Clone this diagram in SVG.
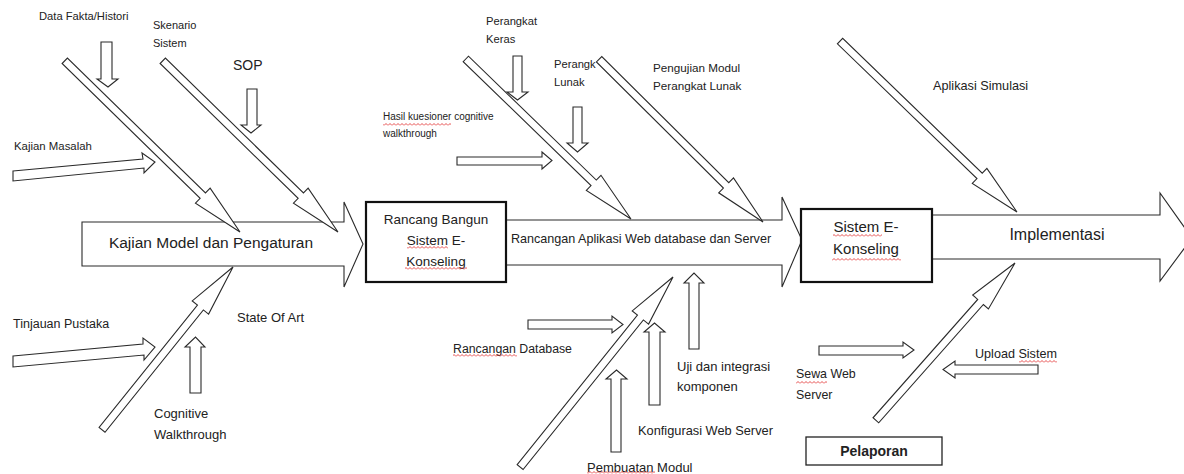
<svg xmlns="http://www.w3.org/2000/svg" width="1184" height="474" viewBox="0 0 1184 474">
<style>
.ar{fill:#fff;stroke:#2a2a2a;stroke-width:1.1;stroke-linejoin:miter}
.box{fill:#fff;stroke:#111;stroke-width:2.2}
.box1{fill:#fff;stroke:#222;stroke-width:1.3}
.t{font-family:"Liberation Sans",Arial,sans-serif;fill:#222}
.m{text-anchor:middle}
.wv{fill:url(#wave)}
</style>
<defs>
<pattern id="wave" width="4" height="3" patternUnits="userSpaceOnUse">
<path d="M0,2.5 L2,0.5 L4,2.5" fill="none" stroke="#e02020" stroke-width="0.8"/>
</pattern>
</defs>
<rect width="1184" height="474" fill="#fff"/>

<g id="kajian-model">
<polygon class="ar" points="82,222 344,222 344,202 363,244 344,287 344,266 82,266"/>
<text class="t m" x="211" y="248" font-size="15.5">Kajian Model dan Pengaturan</text>
</g>
<g id="rancangan-aplikasi">
<polygon class="ar" points="500,220 782,220 782,197 802,240 782,287 782,265 500,265"/>
<text class="t m" x="641" y="243" font-size="12.6">Rancangan Aplikasi Web database dan Server</text>
</g>
<g id="implementasi">
<polygon class="ar" points="925,215 1160,215 1160,193 1192,238 1160,281 1160,259 925,259"/>
<text class="t m" x="1057" y="240" font-size="16">Implementasi</text>
</g>
<g id="rancang-bangun">
<rect class="box" x="366" y="202" width="140" height="80"/>
<text class="t m" x="436" y="224" font-size="13.5">Rancang Bangun</text>
<text class="t m" x="436" y="245" font-size="13.5">Sistem E-</text>
<text class="t m" x="436" y="266" font-size="13.5">Konseling</text>
<rect class="wv" x="407" y="246" width="41" height="3"/>
<rect class="wv" x="405" y="267" width="62" height="3"/>
</g>
<g id="sistem-ekonseling">
<rect class="box" x="801" y="209" width="131" height="73"/>
<text class="t m" x="866" y="232" font-size="15">Sistem E-</text>
<text class="t m" x="866" y="254" font-size="15">Konseling</text>
<rect class="wv" x="833" y="234" width="49" height="3"/>
<rect class="wv" x="832" y="258" width="69" height="3"/>
</g>
<g id="pelaporan">
<rect class="box1" x="806" y="437" width="136" height="28"/>
<text class="t m" x="874" y="456" font-size="14" font-weight="bold">Pelaporan</text>
</g>

<g id="labels">
<text id="lbl-data" class="t" x="39" y="19.5" font-size="11.2">Data Fakta/Histori</text>
<text id="lbl-skenario" class="t" font-size="11"><tspan x="153" y="29">Skenario</tspan><tspan x="153" y="47">Sistem</tspan></text>
<text id="lbl-sop" class="t" x="233" y="70" font-size="14">SOP</text>
<text id="lbl-kajian-masalah" class="t" x="14" y="150" font-size="11.4">Kajian Masalah</text>
<text id="lbl-tinjauan" class="t" x="13" y="328" font-size="12.5">Tinjauan Pustaka</text>
<text id="lbl-soa" class="t" x="237" y="322" font-size="13">State Of Art</text>
<text id="lbl-cognitive" class="t" font-size="13"><tspan x="154" y="418">Cognitive</tspan><tspan x="154" y="439">Walkthrough</tspan></text>
<text id="lbl-keras" class="t" font-size="11.2"><tspan x="486" y="25">Perangkat</tspan><tspan x="486" y="43">Keras</tspan></text>
<text id="lbl-lunak" class="t" font-size="11.2"><tspan x="554" y="68">Perangk</tspan><tspan x="554" y="86">Lunak</tspan></text>
<text id="lbl-pengujian" class="t" font-size="11.7"><tspan x="653" y="72">Pengujian Modul</tspan><tspan x="653" y="90">Perangkat Lunak</tspan></text>
<text id="lbl-hasil" class="t" font-size="10"><tspan x="383" y="120">Hasil kuesioner cognitive</tspan><tspan x="383" y="137">walkthrough</tspan></text>
<rect class="wv" x="383" y="123" width="68" height="3"/>
<text id="lbl-rdb" class="t" x="453" y="353" font-size="12.3">Rancangan Database</text>
<rect class="wv" x="453" y="354" width="64" height="3"/>
<text id="lbl-uji" class="t" font-size="13"><tspan x="677" y="371">Uji dan integrasi</tspan><tspan x="677" y="391">komponen</tspan></text>
<text id="lbl-konfig" class="t" x="638" y="435" font-size="12.8">Konfigurasi Web Server</text>
<text id="lbl-pembuatan" class="t" x="587" y="472" font-size="13">Pembuatan Modul</text>
<rect class="wv" x="587" y="471" width="68" height="3"/>
<text id="lbl-aplikasi" class="t" x="933" y="90" font-size="12.7">Aplikasi Simulasi</text>
<text id="lbl-sewa" class="t" font-size="12.4"><tspan x="796" y="378">Sewa Web</tspan><tspan x="796" y="399">Server</tspan></text>
<rect class="wv" x="796" y="381" width="31" height="3"/>
<text id="lbl-upload" class="t" x="975" y="358" font-size="12.6">Upload Sistem</text>
<rect class="wv" x="1019" y="360" width="38" height="3"/>
</g>

<g id="connectors">
<polygon class="ar" points="101,42 112,42 112,79 118,79 108,87 97,79 101,79"/>
<polygon class="ar" points="247,89 257,89 257,125 261,125 251,133 241,125 247,125"/>
<polygon class="ar" points="13,171 143,159 142,153 155,162 144,173 144,168 13,181"/>
<polygon class="ar" points="13,356 143,344 143,338 155,347 144,360 144,355 13,367"/>
<polygon class="ar" points="190,393 201,393 201,347 205,347 195.5,337 185,347 190,347"/>
<polygon class="ar" points="513,56 522,56 522,92 528,92 517.5,100 507,92 513,92"/>
<polygon class="ar" points="573,107 582,107 582,143 588,143 577.5,152 567,143 573,143"/>
<polygon class="ar" points="457,157 542,157 542,152 552,160.5 542,169 542,165 457,165"/>
<polygon class="ar" points="528,320 612,320 612,316 623,324.5 612,333 612,329 528,329"/>
<polygon class="ar" points="611,452 621,452 621,379 627,379 616.5,370 606,379 611,379"/>
<polygon class="ar" points="649,405 660,405 660,332 665,332 654.5,323 644,332 649,332"/>
<polygon class="ar" points="689,349 699,349 699,283 704,283 694,273 684,283 689,283"/>
<polygon class="ar" points="819,346 903,346 903,342 914,350 903,358 903,355 819,355"/>
<polygon class="ar" points="1038,365 955,365 955,361 943,369.5 955,378 955,374 1038,374"/>

<polygon class="ar" transform="translate(240,232) rotate(44.33)" points="0,0 -52,-10.5 -52,-3.8 -245,-3.8 -245,3.8 -52,3.8 -52,10.5"/>
<polygon class="ar" transform="translate(338,232) rotate(44.33)" points="0,0 -52,-10.5 -52,-3.8 -245,-3.8 -245,3.8 -52,3.8 -52,10.5"/>
<polygon class="ar" transform="translate(233,267) rotate(-51.2)" points="0,0 -52,-10.5 -52,-3.8 -209,-3.8 -209,3.8 -52,3.8 -52,10.5"/>
<polygon class="ar" transform="translate(631,219) rotate(44.1)" points="0,0 -52,-10.5 -52,-3.8 -230,-3.8 -230,3.8 -52,3.8 -52,10.5"/>
<polygon class="ar" transform="translate(763,222) rotate(44.8)" points="0,0 -52,-10.5 -52,-3.8 -231,-3.8 -231,3.8 -52,3.8 -52,10.5"/>
<polygon class="ar" transform="translate(673,277) rotate(-51.2)" points="0,0 -52,-10.5 -52,-3.8 -244,-3.8 -244,3.8 -52,3.8 -52,10.5"/>
<polygon class="ar" transform="translate(1017,212) rotate(44.0)" points="0,0 -52,-10.5 -52,-3.8 -246,-3.8 -246,3.8 -52,3.8 -52,10.5"/>
<polygon class="ar" transform="translate(1015,263) rotate(-48.5)" points="0,0 -52,-10.5 -52,-3.8 -210,-3.8 -210,3.8 -52,3.8 -52,10.5"/>
</g>
</svg>
